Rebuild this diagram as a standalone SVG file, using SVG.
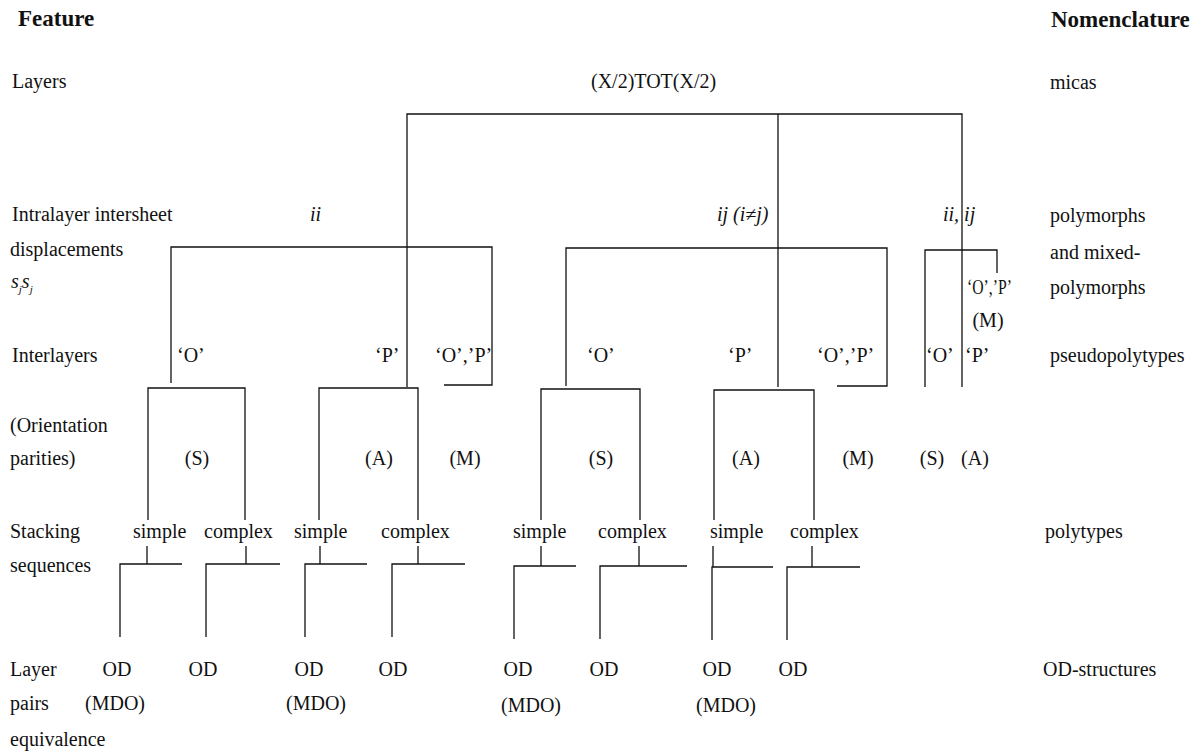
<svg xmlns="http://www.w3.org/2000/svg" width="1203" height="751" viewBox="0 0 1203 751">
<style>
text{font-family:"Liberation Serif","Times New Roman",serif;font-size:20px;fill:#111}
.b{font-weight:bold;font-size:23px}
.i{font-style:italic}
.m{text-anchor:middle}
.c path{fill:none;stroke:#111;stroke-width:1.3}
</style>
<rect width="1203" height="751" fill="#fff"/>
<g id="headers">
<text class="b" x="18" y="26">Feature</text>
<text class="b" x="1051" y="27">Nomenclature</text>
</g>
<g id="features">
<text x="12" y="88">Layers</text>
<text x="12" y="221">Intralayer intersheet</text>
<text x="10" y="256">displacements</text>
<text class="i" x="11" y="288">s<tspan font-size="11" dy="5">j</tspan><tspan dy="-5">s</tspan><tspan font-size="11" dy="5">j</tspan></text>
<text x="12" y="362">Interlayers</text>
<text x="10" y="432">(Orientation</text>
<text x="10" y="465">parities)</text>
<text x="10" y="538">Stacking</text>
<text x="10" y="572">sequences</text>
<text x="10" y="676">Layer</text>
<text x="10" y="710">pairs</text>
<text x="10" y="746">equivalence</text>
</g>
<g id="nomenclature">
<text x="1050" y="89">micas</text>
<text x="1050" y="222">polymorphs</text>
<text x="1050" y="259">and mixed-</text>
<text x="1050" y="294">polymorphs</text>
<text x="1050" y="362">pseudopolytypes</text>
<text x="1045" y="538">polytypes</text>
<text x="1043" y="676">OD-structures</text>
</g>
<g id="node-root"><text x="591" y="88">(X/2)TOT(X/2)</text></g>
<g id="node-ii"><text class="i" x="310" y="221">ii</text></g>
<g id="node-ij"><text class="i" x="717" y="221">ij (i≠j)</text></g>
<g id="node-iiij"><text class="i" x="943" y="221">ii, ij</text></g>
<g id="node-ii-O"><text x="177" y="362">‘O’</text></g>
<g id="node-ii-P"><text x="375" y="362">‘P’</text></g>
<g id="node-ii-OP"><text x="435" y="362">‘O’,’P’</text></g>
<g id="node-ij-O"><text x="587" y="362">‘O’</text></g>
<g id="node-ij-P"><text x="728" y="362">‘P’</text></g>
<g id="node-ij-OP"><text x="817" y="362">‘O’,’P’</text></g>
<g id="node-m-O"><text x="926" y="362">‘O’</text></g>
<g id="node-m-P"><text x="965" y="362">‘P’</text></g>
<g id="node-m-OP"><text x="967" y="294" font-size="18" textLength="45" lengthAdjust="spacingAndGlyphs">‘O’,’P’</text><text class="m" x="988" y="327">(M)</text></g>
<g id="node-par-1"><text class="m" x="197" y="465">(S)</text></g>
<g id="node-par-2"><text class="m" x="379" y="465">(A)</text></g>
<g id="node-par-3"><text class="m" x="465" y="465">(M)</text></g>
<g id="node-par-4"><text class="m" x="601" y="465">(S)</text></g>
<g id="node-par-5"><text class="m" x="746" y="465">(A)</text></g>
<g id="node-par-6"><text class="m" x="858" y="465">(M)</text></g>
<g id="node-par-7"><text class="m" x="932" y="465">(S)</text></g>
<g id="node-par-8"><text class="m" x="975" y="465">(A)</text></g>
<g id="node-seq-1"><text x="133" y="538">simple</text><text class="m" x="117" y="676">OD</text><text class="m" x="115" y="710">(MDO)</text></g>
<g id="node-seq-2"><text x="204" y="538">complex</text><text class="m" x="203" y="676">OD</text></g>
<g id="node-seq-3"><text x="294" y="538">simple</text><text class="m" x="309" y="676">OD</text><text class="m" x="316" y="710">(MDO)</text></g>
<g id="node-seq-4"><text x="381" y="538">complex</text><text class="m" x="393" y="676">OD</text></g>
<g id="node-seq-5"><text x="513" y="538">simple</text><text class="m" x="518" y="676">OD</text><text class="m" x="531" y="712">(MDO)</text></g>
<g id="node-seq-6"><text x="598" y="538">complex</text><text class="m" x="604" y="676">OD</text></g>
<g id="node-seq-7"><text x="710" y="538">simple</text><text class="m" x="717" y="676">OD</text><text class="m" x="726" y="712">(MDO)</text></g>
<g id="node-seq-8"><text x="790" y="538">complex</text><text class="m" x="793" y="676">OD</text></g>
<g id="connectors" class="c">
<path d="M407,387 V114 H962 V387 M778,114 V387"/>
<path d="M171,383 V247 H492 V385 H444"/>
<path d="M566,386 V248 H887 V386 H837"/>
<path d="M925,387 V250 H997 V273"/>
<path d="M148,520 V388 H245 V520"/>
<path d="M319,520 V388 H418 V520"/>
<path d="M541,520 V389 H640 V520"/>
<path d="M714,520 V390 H814 V520"/>
<path d="M147,546 V564 M120,637 V564 H182"/>
<path d="M246,546 V564 M206,637 V564 H280"/>
<path d="M320,546 V564 M305,637 V564 H367"/>
<path d="M418,546 V564 M392,637 V564 H465"/>
<path d="M541,546 V566 M514,639 V566 H576"/>
<path d="M639,546 V566 M600,639 V566 H687"/>
<path d="M713,546 V567 M712,640 V567 H773"/>
<path d="M812,546 V567 M787,640 V567 H860"/>
</g>
</svg>
